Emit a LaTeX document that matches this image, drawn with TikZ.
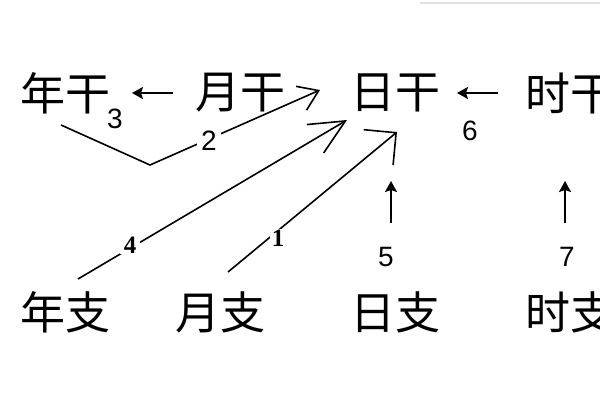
\documentclass[tikz,border=0pt]{standalone}
\usepackage{fontspec}
\newfontfamily\cjk{Noto Sans CJK SC}
\newfontfamily\numsans{Liberation Sans}
\newfontfamily\numserif{Liberation Serif}
\usetikzlibrary{arrows.meta}
\begin{document}
\begin{tikzpicture}[x=1pt,y=-1pt,
  gz/.style={font=\cjk\fontsize{45}{45}\selectfont, inner sep=0pt, anchor=center},
  numlab/.style={font=\numsans\fontsize{28}{28}\selectfont, inner sep=1pt},
  serlab/.style={font=\numserif\bfseries\fontsize{25}{25}\selectfont, inner sep=1pt},
  wline/.style={line width=1.6pt, black},
  smallarrow/.style={line width=1.8pt, -{Stealth[length=11pt,width=12pt,inset=2pt]}},
  barbtwo/.style={wline, -{Straight Barb[length=19pt,width=26pt,line width=1.6pt]}},
  barbfour/.style={wline, -{Straight Barb[length=35pt,width=33pt,line width=1.6pt]}},
  barbone/.style={wline, -{Straight Barb[length=23pt,width=46pt,line width=1.6pt]}},
  gapfill/.style={fill=white, inner xsep=4pt, inner ysep=1pt}
]
\useasboundingbox (0,0) rectangle (600,400);
\clip (0,0) rectangle (600,400);
\fill[white] (0,0) rectangle (600,400);
\draw[black!12, line width=1.5pt] (420,3) -- (600,3);

% stems row
\node[gz] (ng) at (65,93) {年干};
\node[gz] (yg) at (240,93) {月干};
\node[gz] (rg) at (395,93) {日干};
\node[gz] (sg) at (570,93) {时干};
% branches row
\node[gz] (nz) at (65,312) {年支};
\node[gz] (yz) at (220,312) {月支};
\node[gz] (rz) at (395,312) {日支};
\node[gz] (sz) at (570,312) {时支};

% coordinates
\coordinate (a3s) at (173,93);
\coordinate (a3e) at (132,93);
\coordinate (a6s) at (498,93);
\coordinate (a6e) at (457,93);
\coordinate (p2s) at (61,125);
\coordinate (p2v) at (150,165);
\coordinate (p2e) at (320,90);
\coordinate (p4s) at (78,279);
\coordinate (p4e) at (347,120);
\coordinate (p1s) at (228,272);
\coordinate (p1e) at (397,132);
\coordinate (a5s) at (391,223);
\coordinate (a5e) at (391,181);
\coordinate (a7s) at (565,223);
\coordinate (a7e) at (565,181);

% horizontal and vertical arrows
\draw[smallarrow] (a3s) -- (a3e);
\draw[smallarrow] (a6s) -- (a6e);
\draw[smallarrow] (a5s) -- (a5e);
\draw[smallarrow] (a7s) -- (a7e);

% diagonal arrows
\draw[barbtwo] (p2s) -- (p2v) -- (p2e);
\draw[barbfour] (p4s) -- (p4e);
\draw[barbone] (p1s) -- (p1e);

% labels
\node[numlab] (l3) at (115,119) {3};
\node[numlab, gapfill] (l2) at (209,141) {2};
\node[numlab] (l6) at (470,131) {6};
\node[serlab, gapfill] (l4) at (130,245) {4};
\node[serlab, gapfill, inner xsep=2pt] (l1) at (278,238) {1};
\node[numlab] (l5) at (386,257) {5};
\node[numlab] (l7) at (567,257) {7};
\end{tikzpicture}
\end{document}
